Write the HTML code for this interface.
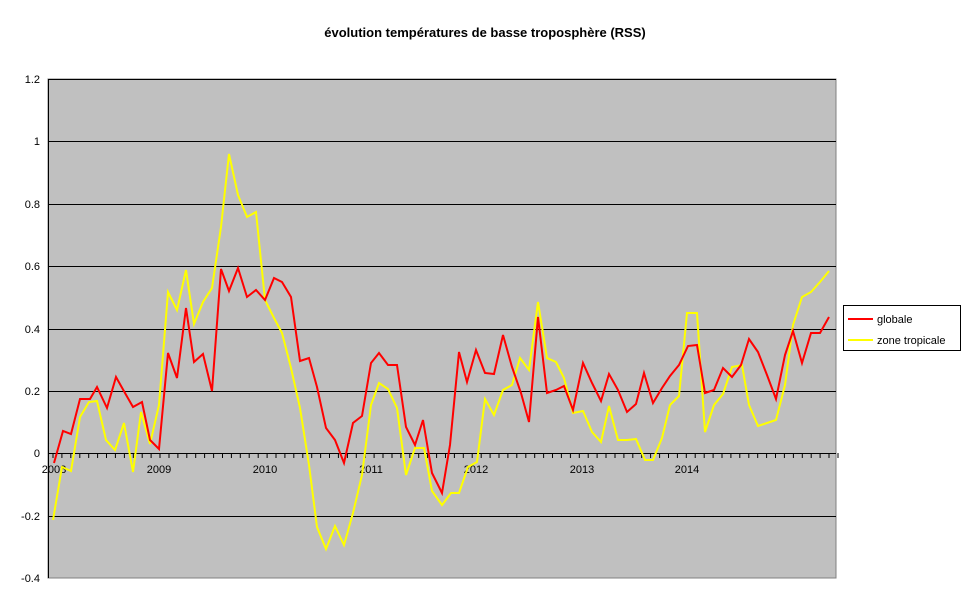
<!DOCTYPE html>
<html><head><style>
body{margin:0;background:#fff;}
svg text{font-family:"Liberation Sans",Arial,sans-serif;}
</style></head><body>
<svg width="970" height="604" viewBox="0 0 970 604" xmlns="http://www.w3.org/2000/svg">
<rect width="970" height="604" fill="#fff"/>
<text x="485" y="37" font-size="13" font-weight="bold" text-anchor="middle">évolution températures de basse troposphère (RSS)</text>
<rect x="48" y="79" width="788" height="499" fill="#c0c0c0" stroke="#808080" stroke-width="1"/>
<g stroke="#000" stroke-width="1">
<line x1="48" y1="79.5" x2="836" y2="79.5"/>
<line x1="48" y1="141.5" x2="836" y2="141.5"/>
<line x1="48" y1="204.5" x2="836" y2="204.5"/>
<line x1="48" y1="266.5" x2="836" y2="266.5"/>
<line x1="48" y1="329.5" x2="836" y2="329.5"/>
<line x1="48" y1="391.5" x2="836" y2="391.5"/>
<line x1="48" y1="453.5" x2="836" y2="453.5"/>
<line x1="48" y1="516.5" x2="836" y2="516.5"/>
<line x1="48.5" y1="79" x2="48.5" y2="578"/>
</g>
<g stroke="#000" stroke-width="1" id="ticks"></g>
<g font-size="11" text-anchor="end">
<text x="40" y="83">1.2</text><text x="40" y="145">1</text><text x="40" y="208">0.8</text>
<text x="40" y="270">0.6</text><text x="40" y="333">0.4</text><text x="40" y="395">0.2</text>
<text x="40" y="457">0</text><text x="40" y="520">-0.2</text><text x="40" y="582">-0.4</text>
</g>
<g font-size="11" text-anchor="middle">
<text x="54" y="473">2008</text><text x="159" y="473">2009</text><text x="265" y="473">2010</text>
<text x="371" y="473">2011</text><text x="476" y="473">2012</text><text x="582" y="473">2013</text><text x="687" y="473">2014</text>
</g>
<polyline fill="none" stroke="#ffff00" stroke-width="2" points="53,520 62,467 71,471 80,417 89,402 97,401 106,440 115,450 124,423 133,472 141,412 150,444 159,405 168,292 177,310 186,270 194,324 203,302 212,288 221,227 229,154 238,195 247,217 256,212 265,300 274,318 282,333 291,368 300,408 309,465 317,527 326,549 335,526 344,545 353,513 362,475 371,405 379,383 388,389 397,408 406,475 415,448 424,448 432,491 442,505 451,493 459,493 468,467 477,462 485,399 494,415 503,390 512,385 520,358 529,370 538,302 547,358 556,362 564,378 573,413 583,411 592,432 601,442 609,406 618,440 627,440 636,439 645,460 653,460 662,438 670,405 679,396 687,313 697,313 705,432 714,405 723,394 732,367 742,365 749,405 758,426 767,423 776,420 785,385 793,325 802,297 811,292 820,282 829,271"/>
<polyline fill="none" stroke="#ff0000" stroke-width="2" points="54,463 63,431 71,434 80,399 90,399 97,387 107,408 116,377 125,393 133,407 142,402 150,440 159,449 168,353 177,378 186,308 194,362 203,354 212,391 221,269 229,291 238,268 247,297 256,290 265,300 274,278 282,282 291,297 300,361 309,358 317,387 326,428 335,440 344,463 353,423 362,416 371,363 379,353 388,365 397,365 406,427 415,445 423,420 432,473 442,493 450,445 459,352 467,382 476,350 485,373 494,374 503,335 512,367 521,393 529,422 538,317 547,393 556,390 564,386 573,410 583,363 592,383 601,401 609,374 618,390 627,412 636,404 644,373 653,403 662,388 670,376 679,365 688,346 697,345 705,393 714,390 723,368 732,377 741,365 749,339 758,352 767,375 776,399 785,355 793,331 802,363 811,333 820,333 829,317"/>
<rect x="843.5" y="305.5" width="117" height="45" fill="#fff" stroke="#000"/>
<line x1="848" y1="319" x2="873" y2="319" stroke="#ff0000" stroke-width="2"/>
<line x1="848" y1="340" x2="873" y2="340" stroke="#ffff00" stroke-width="2"/>
<text x="877" y="323" font-size="11">globale</text>
<text x="877" y="344" font-size="11">zone tropicale</text>
</svg>
<script>
var g=document.getElementById('ticks'),s='';
for(var i=0;i<=88;i++){var x=(53+i*8.92).toFixed(1);s+='<line x1="'+x+'" y1="453" x2="'+x+'" y2="458" stroke="#000"/>';}
g.innerHTML=s;
</script>
</body></html>
